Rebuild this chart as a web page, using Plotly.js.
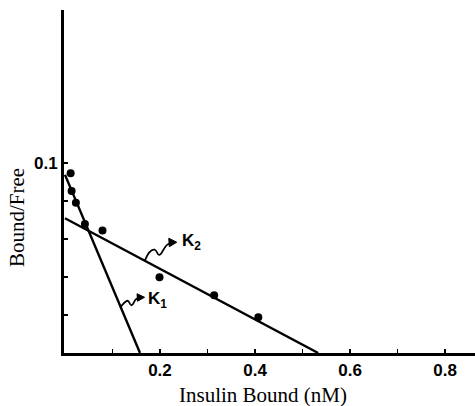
<!DOCTYPE html>
<html>
<head>
<meta charset="utf-8">
<script src="https://cdn.plot.ly/plotly-3.0.1.min.js"></script>
<style>
  html, body { margin: 0; padding: 0; background: #fff; }
  #chart { width: 475px; height: 406px; }
</style>
</head>
<body>
<div id="chart"></div>
<script>
// Scatchard plot: bound/free ratio against bound insulin
const insulinBound = [0.012, 0.014, 0.023, 0.042, 0.079, 0.199, 0.314, 0.407];
const boundFree    = [0.0946, 0.0853, 0.0791, 0.0679, 0.0644, 0.0398, 0.0304, 0.0188];

// Straight-line components (high and low affinity sites), given by their intercepts
const k1X = [0, 0.158];
const k1Y = [0.0938, 0];
const k2X = [0, 0.533];
const k2Y = [0.0709, 0];

const xTickVals = [0.2, 0.4, 0.6, 0.8];
const xTickText = ['0.2', '0.4', '0.6', '0.8'];
const xMinorVals = [0.1, 0.3, 0.5, 0.7];
const yTickVals = [0.1];
const yTickText = ['0.1'];
const yMinorVals = [0.02, 0.04, 0.06, 0.08];

// y value of a line (given by two end points) at position x
function lineAt(xs, ys, x) {
  return ys[0] + (ys[1] - ys[0]) * (x - xs[0]) / (xs[1] - xs[0]);
}

const k1AnchorX = 0.117;
const k2AnchorX = 0.168;
const k1Anchor = [k1AnchorX, lineAt(k1X, k1Y, k1AnchorX)];
const k2Anchor = [k2AnchorX, lineAt(k2X, k2Y, k2AnchorX)];

// wavy pointer leaving a line, drawn in pixel offsets from an anchor on that line
function squiggle(anchor, path) {
  return {
    type: 'path', xref: 'x', yref: 'y',
    xsizemode: 'pixel', ysizemode: 'pixel',
    xanchor: anchor[0], yanchor: anchor[1],
    path: path,
    line: { color: '#000', width: 1.8 }
  };
}
function arrowHead(anchor, path) {
  return {
    type: 'path', xref: 'x', yref: 'y',
    xsizemode: 'pixel', ysizemode: 'pixel',
    xanchor: anchor[0], yanchor: anchor[1],
    path: path,
    fillcolor: '#000',
    line: { color: '#000', width: 1 }
  };
}

const traces = [
  {
    x: k1X, y: k1Y, mode: 'lines', type: 'scatter',
    line: { color: '#000', width: 2.4 }, hoverinfo: 'skip'
  },
  {
    x: k2X, y: k2Y, mode: 'lines', type: 'scatter',
    line: { color: '#000', width: 2.4 }, hoverinfo: 'skip'
  },
  {
    x: insulinBound, y: boundFree, mode: 'markers', type: 'scatter',
    marker: { color: '#000', size: 8 }
  }
];

const tickFont = { family: 'Liberation Sans, Arial, sans-serif', size: 17, color: '#000', weight: 'bold' };
const titleFont = { family: 'Liberation Serif, Times New Roman, serif', size: 21, color: '#000' };
const kFont = { family: 'Liberation Sans, Arial, sans-serif', size: 17, color: '#000', weight: 'bold' };

const layout = {
  width: 475, height: 406,
  margin: { l: 64, r: 0, t: 10, b: 53 },
  paper_bgcolor: '#fff', plot_bgcolor: '#fff',
  showlegend: false,
  xaxis: {
    range: [-0.002, 0.863],
    showgrid: false, zeroline: false,
    showline: true, linecolor: '#000', linewidth: 2.5,
    ticks: 'inside', ticklen: 4, tickwidth: 1.5, tickcolor: '#000',
    tickvals: xTickVals, ticktext: xTickText,
    minor: { tickvals: xMinorVals, ticks: 'inside', ticklen: 4, tickwidth: 1.5, tickcolor: '#000', showgrid: false },
    tickfont: tickFont,
    automargin: false
  },
  yaxis: {
    range: [0, 0.1805],
    showgrid: false, zeroline: false,
    showline: true, linecolor: '#000', linewidth: 3,
    ticks: 'inside', ticklen: 4, tickwidth: 1.5, tickcolor: '#000',
    tickvals: yTickVals, ticktext: yTickText,
    minor: { tickvals: yMinorVals, ticks: 'inside', ticklen: 4, tickwidth: 1.5, tickcolor: '#000', showgrid: false },
    tickfont: tickFont,
    automargin: false
  },
  shapes: [
    squiggle(k2Anchor, 'M0,0 C2,5 6,12 10,11 C13,10 12,5 15,6 C18,7 19,15 24,17 L27,17.8'),
    arrowHead(k2Anchor, 'M32,18.5 L24,22.5 L24.5,14 Z'),
    squiggle(k1Anchor, 'M0,0 C2,2 5,6 7,6 C9,6 9,1.5 11,1.5 C13,1.5 13,6 16,8 L19,9'),
    arrowHead(k1Anchor, 'M24,9.5 L16.5,13 L17,5.5 Z')
  ],
  annotations: [
    {
      text: 'Insulin Bound (nM)',
      xref: 'paper', yref: 'paper', x: 0.484, y: -0.123,
      xanchor: 'center', yanchor: 'middle', showarrow: false,
      font: titleFont
    },
    {
      text: 'Bound/Free', textangle: -90,
      xref: 'paper', yref: 'paper', x: -0.114, y: 0.394,
      xanchor: 'center', yanchor: 'middle', showarrow: false,
      font: titleFont
    },
    {
      text: 'K<sub>2</sub>', xref: 'x', yref: 'y',
      x: k2Anchor[0], y: k2Anchor[1], xshift: 35, yshift: 19,
      xanchor: 'left', yanchor: 'middle', showarrow: false,
      font: kFont
    },
    {
      text: 'K<sub>1</sub>', xref: 'x', yref: 'y',
      x: k1Anchor[0], y: k1Anchor[1], xshift: 25, yshift: 7,
      xanchor: 'left', yanchor: 'middle', showarrow: false,
      font: kFont
    }
  ]
};

Plotly.newPlot('chart', traces, layout, { staticPlot: true, displayModeBar: false });
</script>
</body>
</html>
